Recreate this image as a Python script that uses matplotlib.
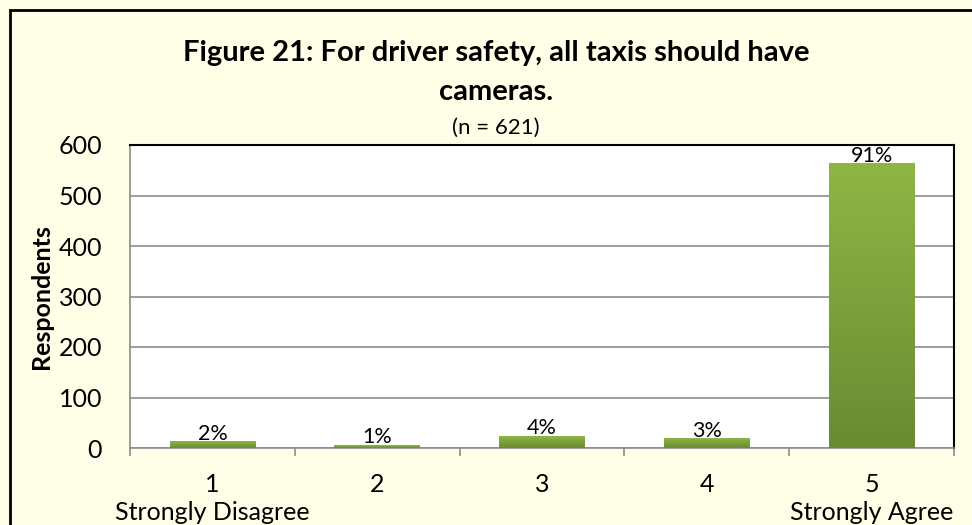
import numpy as np
import matplotlib
matplotlib.use('Agg')
import matplotlib.pyplot as plt
from matplotlib.colors import LinearSegmentedColormap

# Données (n = 621)
categories = ['1\nStrongly Disagree', '2', '3', '4', '5\nStrongly Agree']
respondents = [12, 5, 23, 18, 563]
pct_labels = ['2%', '1%', '4%', '3%', '91%']

plt.rcParams['font.family'] = ['Lato', 'DejaVu Sans']

bg = '#FFFEE6'
fig = plt.figure(figsize=(9.72, 5.25), dpi=100, facecolor=bg)
ax = fig.add_axes([130/972, 1 - 448/525, 824/972, 303/525])
ax.set_facecolor('white')

x = np.arange(len(categories))
width = 0.52
bars = ax.bar(x, respondents, width=width, color='#7DA23C', zorder=2)

# dégradé vert sur chaque barre
cmap = LinearSegmentedColormap.from_list('g', ['#6A8A32', '#8FB645'])
grad = np.linspace(0, 1, 256).reshape(-1, 1)
for b in bars:
    bx, by = b.get_x(), b.get_y()
    bw, bh = b.get_width(), b.get_height()
    ax.imshow(grad, extent=(bx, bx + bw, by, by + bh), origin='lower',
              cmap=cmap, aspect='auto', zorder=3)
    b.set_alpha(0)

for xi, v, lab in zip(x, respondents, pct_labels):
    ax.text(xi, v - 4, lab, ha='center', va='bottom', fontsize=15.5, zorder=4)

ax.set_xlim(-0.5, len(categories) - 0.5)
ax.set_ylim(0, 600)
ax.set_yticks(range(0, 601, 100))
ax.yaxis.grid(True, color='#8C8C8C', linewidth=1.2, zorder=0)
ax.set_axisbelow(True)

ax.set_xticks(x)
ax.set_xticklabels(categories, fontsize=18, linespacing=1.25)
ax.set_xticks(np.arange(-0.5, len(categories)), minor=True)
ax.tick_params(axis='x', which='major', length=0, pad=18)
ax.tick_params(axis='x', which='minor', length=6, color='#8C8C8C', width=1.2)
ax.tick_params(axis='y', length=0, labelsize=18, pad=20)

for s in ['top', 'right']:
    ax.spines[s].set_color('black')
    ax.spines[s].set_linewidth(1.5)
for s in ['left', 'bottom']:
    ax.spines[s].set_color('#8C8C8C')
    ax.spines[s].set_linewidth(1.2)

ax.set_ylabel('Respondents', fontsize=18, fontweight='bold', labelpad=4)

fig.text(496/972, 1 - 53/525, 'Figure 21: For driver safety, all taxis should have',
         ha='center', va='center', fontsize=21, fontweight='bold')
fig.text(496/972, 1 - 92/525, 'cameras.', ha='center', va='center',
         fontsize=21, fontweight='bold')
fig.text(496/972, 1 - 128/525, '(n = 621)', ha='center', va='center', fontsize=16)

# cadre du graphique
fig.patches.append(plt.Rectangle((10/972, -0.01), 1.0, 1 - 10/525 + 0.01,
                                 transform=fig.transFigure, fill=False,
                                 edgecolor='black', linewidth=2))

fig.savefig('out.png', dpi=100, facecolor=bg)
